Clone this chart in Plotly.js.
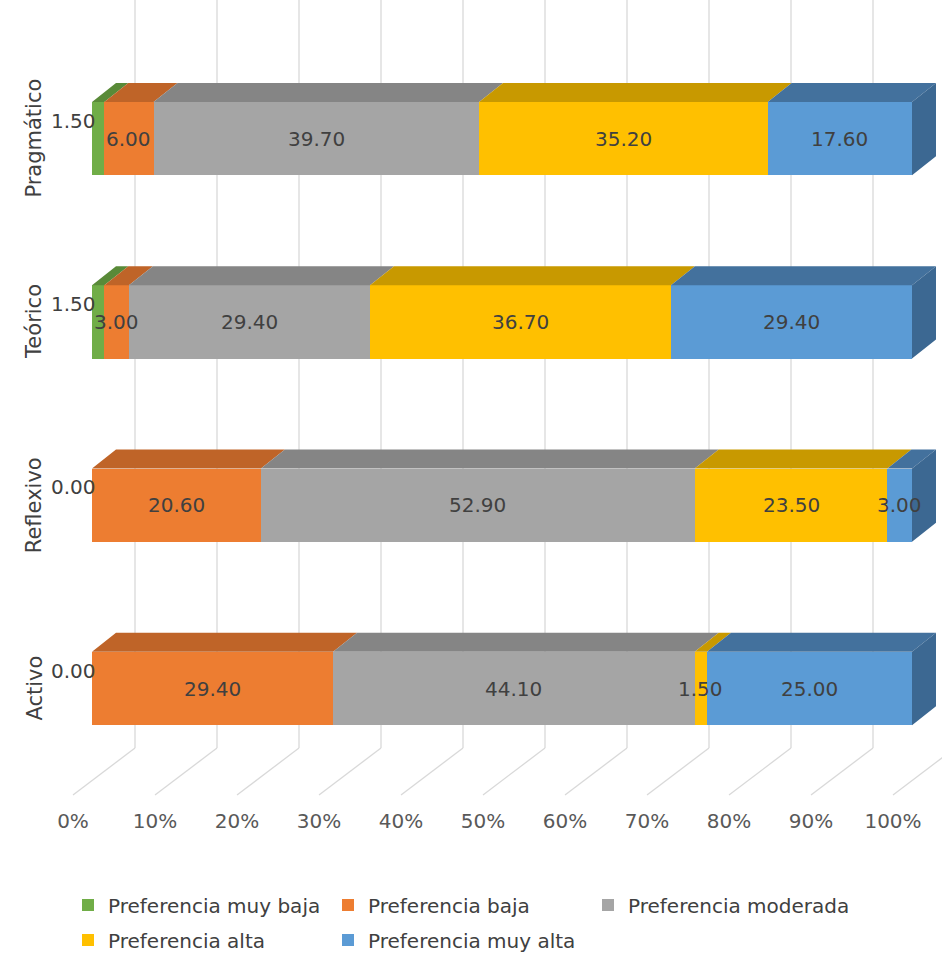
<!DOCTYPE html>
<html><head><meta charset="utf-8">
<script src="https://cdn.plot.ly/plotly-3.0.1.min.js"></script>
<style>html,body{margin:0;padding:0;background:#fff}</style>
</head><body><div id="chart" style="width:942px;height:954px"></div>
<script>
// ---- data ----
const categories = ['Activo', 'Reflexivo', 'Teórico', 'Pragmático'];
const seriesNames = ['Preferencia muy baja', 'Preferencia baja', 'Preferencia moderada', 'Preferencia alta', 'Preferencia muy alta'];
const muyBaja  = [0.0, 0.0, 1.5, 1.5];
const baja     = [29.4, 20.6, 3.0, 6.0];
const moderada = [44.1, 52.9, 29.4, 39.7];
const alta     = [1.5, 23.5, 36.7, 35.2];
const muyAlta  = [25.0, 3.0, 29.4, 17.6];
const tickValues = [0, 10, 20, 30, 40, 50, 60, 70, 80, 90, 100];
const tickLabels = ['0%', '10%', '20%', '30%', '40%', '50%', '60%', '70%', '80%', '90%', '100%'];

// ---- styles ----
const series = [muyBaja, baja, moderada, alta, muyAlta];
const frontColors = ['#70AD47', '#ED7D31', '#A5A5A5', '#FFC000', '#5B9BD5'];
const topColors   = ['#598A38', '#BF6428', '#858585', '#C89900', '#43719D'];
const sideColor = '#3C6892';
const FONT = 'DejaVu Sans, Verdana, sans-serif';

const W = 942, H = 954;
const px0 = 92, pxPerX = 8.2;          // x pixel of 0% on bar front, px per unit
const pyRow0 = 688.5, pxPerY = 183.3;  // y pixel of first category centre, px per category
const plotBottom = 800;
const barW = 0.4;
const dx = 24 / pxPerX, dy = 19 / pxPerY;           // bar depth projection
const backOff = 43 / pxPerX, frontOff = -19 / pxPerX; // wall / floor front offsets
const floorBackY = (pyRow0 - 748) / pxPerY;
const floorFrontY = (pyRow0 - 795) / pxPerY;
const yTop = pyRow0 / pxPerY;
const yBottom = (pyRow0 - plotBottom) / pxPerY;

const idx = categories.map((c, i) => i);
const traces = [];
const annotations = [];

// front faces
series.forEach((vals, s) => {
  traces.push({
    type: 'bar', orientation: 'h', name: seriesNames[s],
    y: idx, x: vals, width: barW,
    marker: { color: frontColors[s], line: { width: 0 } },
    hoverinfo: 'skip',
    legend: s < 3 ? 'legend' : 'legend2'
  });
});

// top faces and right side face computed from the stacked values
const cum = idx.map(() => 0);
series.forEach((vals, s) => {
  const xs = [], ys = [];
  idx.forEach(i => {
    const v = vals[i];
    const x0 = cum[i], x1 = cum[i] + v;
    if (v > 0) {
      const yt = i + barW / 2;
      xs.push(x0, x1, x1 + dx, x0 + dx, x0, null);
      ys.push(yt, yt, yt + dy, yt + dy, yt, null);
    }
    // label
    if (s === 0) {
      annotations.push({ x: frontOff, y: i, xref: 'x', yref: 'y', yshift: 18, text: v.toFixed(2), showarrow: false,
        font: { family: FONT, size: 20, color: '#404040' } });
    } else {
      annotations.push({ x: x0 + v / 2, y: i, xref: 'x', yref: 'y', text: v.toFixed(2), showarrow: false,
        font: { family: FONT, size: 20, color: '#404040' } });
    }
    cum[i] = x1;
  });
  traces.push({ type: 'scatter', mode: 'lines', x: xs, y: ys, fill: 'toself', fillcolor: topColors[s],
    line: { width: 0, color: topColors[s] }, hoverinfo: 'skip', showlegend: false });
});
{
  const xs = [], ys = [];
  idx.forEach(i => {
    const T = cum[i];
    const yb = i - barW / 2, yt = i + barW / 2;
    xs.push(T, T, T + dx, T + dx, T, null);
    ys.push(yb, yt, yt + dy, yb + dy, yb, null);
  });
  traces.push({ type: 'scatter', mode: 'lines', x: xs, y: ys, fill: 'toself', fillcolor: sideColor,
    line: { width: 0, color: sideColor }, hoverinfo: 'skip', showlegend: false });
}

// category labels
categories.forEach((c, i) => {
  annotations.push({ x: 20 / W, xref: 'paper', y: i, yref: 'y', text: c, textangle: -90, showarrow: false,
    font: { family: FONT, size: 21, color: '#404040' } });
});

// back wall gridlines and floor lines
const shapes = [];
tickValues.forEach(v => {
  shapes.push({ type: 'line', layer: 'below', xref: 'x', yref: 'y', x0: v + backOff, x1: v + backOff, y0: floorBackY, y1: yTop + 1,
    line: { color: '#D9D9D9', width: 1.3 } });
  shapes.push({ type: 'line', layer: 'below', xref: 'x', yref: 'y', x0: v + backOff, x1: v + frontOff, y0: floorBackY, y1: floorFrontY,
    line: { color: '#D9D9D9', width: 1.3 } });
});

const legendBase = { orientation: 'h', traceorder: 'normal', xref: 'container', yref: 'container', xanchor: 'left', yanchor: 'middle',
  bgcolor: 'rgba(0,0,0,0)', entrywidth: 215, font: { family: FONT, size: 20, color: '#404040' } };

const layout = {
  width: W, height: H,
  margin: { l: 0, r: 0, t: 0, b: H - plotBottom },
  paper_bgcolor: '#fff', plot_bgcolor: 'rgba(0,0,0,0)',
  barmode: 'stack', showlegend: true,
  xaxis: { range: [-px0 / pxPerX, (W - px0) / pxPerX], tickvals: tickValues.map(v => v + frontOff), ticktext: tickLabels,
    showgrid: false, zeroline: false, showline: false, ticks: '', fixedrange: true, ticklabelstandoff: 7,
    tickfont: { family: FONT, size: 20, color: '#595959' } },
  yaxis: { range: [yBottom, yTop], visible: false, fixedrange: true },
  legend: Object.assign({}, legendBase, { x: 68 / W, y: 1 - 905 / H }),
  legend2: Object.assign({}, legendBase, { x: 68 / W, y: 1 - 940 / H }),
  annotations: annotations, shapes: shapes
};

Plotly.newPlot('chart', traces, layout, { displayModeBar: false, staticPlot: true });
</script></body></html>
